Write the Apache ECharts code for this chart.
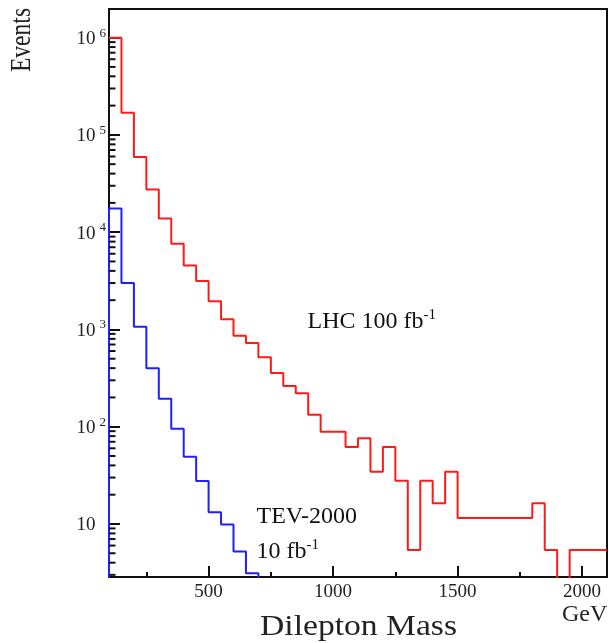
<!DOCTYPE html>
<html>
<head>
<meta charset="utf-8">
<script src="https://cdn.jsdelivr.net/npm/echarts@6/dist/echarts.min.js"></script>
<style>
  html, body { margin: 0; padding: 0; background: #ffffff; }
  #chart { width: 609px; height: 643px; }
</style>
</head>
<body>
<div id="chart"></div>
<script>
// Lower edges of the 50 GeV dilepton-mass bins (GeV)
const binLowEdges = [
  100, 150, 200, 250, 300, 350, 400, 450, 500, 550,
  600, 650, 700, 750, 800, 850, 900, 950, 1000, 1050,
  1100, 1150, 1200, 1250, 1300, 1350, 1400, 1450, 1500, 1550,
  1600, 1650, 1700, 1750, 1800, 1850, 1900, 1950, 2000, 2050
];
const binUpperEdge = 2100;

// LHC, 100 fb^-1 : events per bin
const lhcEvents = [
  1000000, 169000, 59300, 27500, 13800, 7600, 4550, 3150, 1950, 1270,
  863, 726, 518, 357, 262, 221, 133, 89, 89, 62,
  76, 34.5, 62, 27.9, 5.4, 27.9, 16.3, 34.5, 11.5, 11.5,
  11.5, 11.5, 11.5, 11.5, 16.3, 5.4, 0, 5.4, 5.4, 5.4
];

// Tevatron (TEV-2000), 10 fb^-1 : events per bin
const tevEvents = [
  17500, 3010, 1068, 399, 194, 95, 49, 27.7, 13.2, 9.9,
  5.2, 3.11, 0, 0, 0, 0, 0, 0, 0, 0,
  0, 0, 0, 0, 0, 0, 0, 0, 0, 0,
  0, 0, 0, 0, 0, 0, 0, 0, 0, 0
];

// Axis ticks
const xMajorTicks = [500, 1000, 1500, 2000];
const xMinorTicks = [250, 750, 1250, 1750];
const yDecadeTicks = [10, 100, 1000, 10000, 100000, 1000000];
const yMinorMultipliers = [2, 3, 4, 5, 6, 7, 8, 9];

const xMin = 100, xMax = 2100;
const yMin = 2.85, yMax = 1.97e6;
// Empty bins are sent below the visible range so the outline drops to the axis
const belowAxis = 1;

const yMinorTicks = [];
[1, 10, 100, 1000, 10000, 100000, 1000000].forEach(function (d) {
  yMinorMultipliers.forEach(function (m) {
    const v = m * d;
    if (v > yMin && v < yMax) yMinorTicks.push(v);
  });
});

// Outline points for a step histogram: left edge of each bin, then the last right edge
function outline(counts, fromBaseline) {
  const pts = [];
  if (fromBaseline) pts.push([binLowEdges[0], belowAxis]);
  counts.forEach(function (c, i) {
    pts.push([binLowEdges[i], c > 0 ? c : belowAxis]);
  });
  const last = counts[counts.length - 1];
  pts.push([binUpperEdge, last > 0 ? last : belowAxis]);
  return pts;
}

const serif = '"Liberation Serif", "Times New Roman", serif';
const ink = '#111111';

const chart = echarts.init(document.getElementById('chart'), null, { renderer: 'canvas' });

chart.setOption({
  animation: false,
  backgroundColor: '#ffffff',
  grid: {
    left: 109, right: 2, top: 9, bottom: 66,
    show: true, borderColor: ink, borderWidth: 2, backgroundColor: 'transparent'
  },
  xAxis: [
    {
      type: 'value', min: xMin, max: xMax, position: 'bottom',
      axisLine: { onZero: false, lineStyle: { color: ink, width: 2 } },
      axisTick: { inside: true, length: 11, customValues: xMajorTicks, lineStyle: { color: ink, width: 2 } },
      axisLabel: {
        customValues: xMajorTicks, margin: 6,
        formatter: function (v) { return String(v); },
        fontFamily: serif, fontSize: 19, color: '#222'
      },
      splitLine: { show: false }
    },
    {
      type: 'value', min: xMin, max: xMax, position: 'bottom',
      axisLine: { show: false },
      axisTick: { inside: true, length: 5, customValues: xMinorTicks, lineStyle: { color: ink, width: 2 } },
      axisLabel: { show: false },
      splitLine: { show: false }
    }
  ],
  yAxis: [
    {
      type: 'log', logBase: 10, min: yMin, max: yMax, position: 'left',
      axisLine: { onZero: false, lineStyle: { color: ink, width: 2 } },
      axisTick: { inside: true, length: 11, customValues: yDecadeTicks, lineStyle: { color: ink, width: 2 } },
      axisLabel: {
        customValues: yDecadeTicks, margin: 3,
        formatter: function (v) {
          const e = Math.round(Math.log10(v));
          return e === 1 ? '{b|10}{h|1}' : '{b|10}{s|' + e + '}';
        },
        rich: {
          b: { fontFamily: serif, fontSize: 19, color: '#222', lineHeight: 22, verticalAlign: 'bottom' },
          s: { fontFamily: serif, fontSize: 13, color: '#222', lineHeight: 22, verticalAlign: 'top', padding: [0, 0, 0, 4] },
          h: { fontFamily: serif, fontSize: 13, color: 'transparent', lineHeight: 22, verticalAlign: 'top', padding: [0, 0, 0, 4] }
        }
      },
      splitLine: { show: false }
    }
  ],
  series: [
    {
      name: 'LHC 100 fb-1', type: 'line', step: 'end',
      data: outline(lhcEvents, false),
      symbol: 'none', clip: true, z: 3,
      lineStyle: { color: '#ff1a1a', width: 2 }
    },
    {
      name: 'TEV-2000 10 fb-1', type: 'line', step: 'end',
      data: outline(tevEvents, true),
      symbol: 'none', clip: true, z: 4,
      lineStyle: { color: '#1f1fff', width: 2 }
    }
  ]
});

// Text labels around and inside the plot
const texts = [
  {
    type: 'text', x: 22, y: 40, rotation: Math.PI / 2, scaleX: 0.785,
    style: { text: 'Events', font: '30px ' + serif, fill: '#222', align: 'center', verticalAlign: 'middle' }
  },
  {
    type: 'text', x: 358.5, y: 627, scaleX: 1.12,
    style: { text: 'Dilepton Mass', font: '30px ' + serif, fill: '#222', align: 'center', verticalAlign: 'middle' }
  },
  {
    type: 'text', x: 562, y: 615,
    style: { text: 'GeV', font: '24px ' + serif, fill: '#222', align: 'left', verticalAlign: 'middle' }
  },
  {
    type: 'text', x: 307.5, y: 321,
    style: {
      text: '{n|LHC 100 fb}{s|-1}', align: 'left', verticalAlign: 'middle',
      rich: {
        n: { fontFamily: serif, fontSize: 24, fill: '#111', lineHeight: 26, verticalAlign: 'bottom' },
        s: { fontFamily: serif, fontSize: 15, fill: '#111', lineHeight: 26, verticalAlign: 'top' }
      }
    }
  },
  {
    type: 'text', x: 256.5, y: 517,
    style: { text: 'TEV-2000', font: '24px ' + serif, fill: '#111', align: 'left', verticalAlign: 'middle' }
  },
  {
    type: 'text', x: 256.5, y: 551,
    style: {
      text: '{n|10 fb}{s|-1}', align: 'left', verticalAlign: 'middle',
      rich: {
        n: { fontFamily: serif, fontSize: 24, fill: '#111', lineHeight: 26, verticalAlign: 'bottom' },
        s: { fontFamily: serif, fontSize: 15, fill: '#111', lineHeight: 26, verticalAlign: 'top' }
      }
    }
  }
];

// Logarithmic minor ticks (2..9 in each decade), placed through the Events axis scale
const axisX = chart.convertToPixel({ xAxisIndex: 0 }, xMin);
const minorTickMarks = yMinorTicks.map(function (v) {
  const y = chart.convertToPixel({ yAxisIndex: 0 }, v);
  return {
    type: 'line', z: 5, silent: true,
    shape: { x1: axisX, y1: y, x2: axisX + 6.5, y2: y },
    style: { stroke: ink, lineWidth: 2 }
  };
});

chart.setOption({ graphic: texts.concat(minorTickMarks) });
</script>
</body>
</html>
